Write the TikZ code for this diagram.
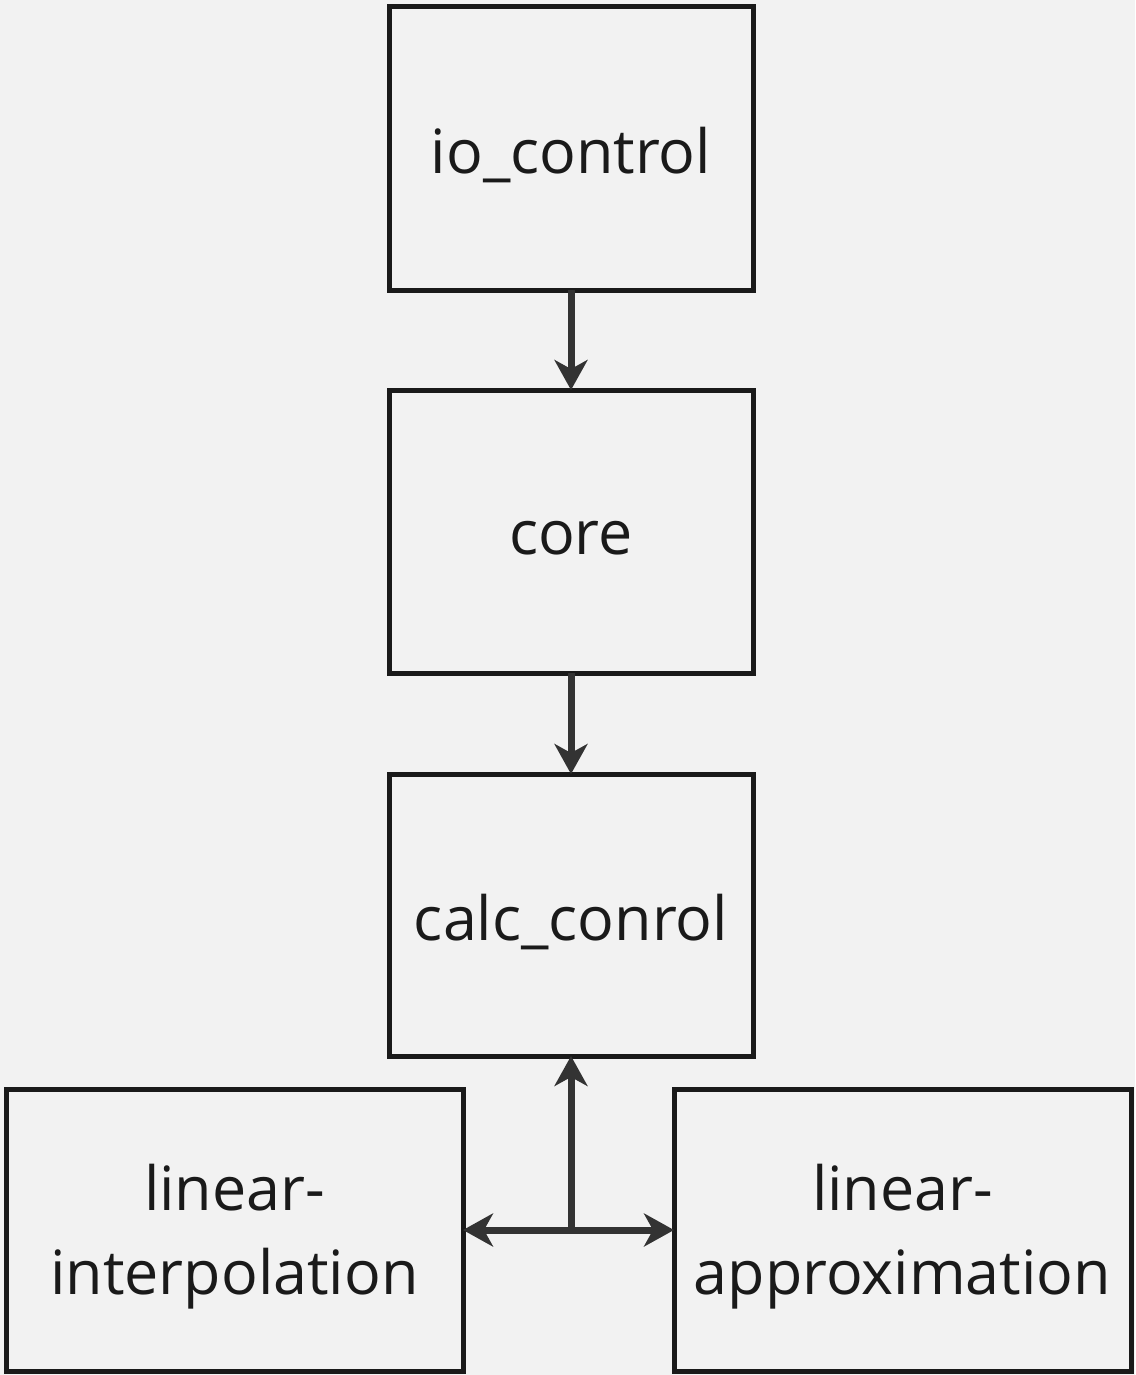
\documentclass[tikz,border=0pt]{standalone}
\usepackage{fontspec}
\setmainfont{Open Sans}
\usetikzlibrary{arrows.meta}
\definecolor{bg}{HTML}{F2F2F2}
\definecolor{edge}{HTML}{1A1A1A}
\definecolor{arr}{HTML}{333333}
\tikzset{
  box/.style={draw=edge, line width=5pt, fill=bg, inner sep=0pt, outer sep=0pt,
    text=edge, align=center},
  lbl/.style={text=edge, font=\fontsize{61}{84}\selectfont, align=center, inner sep=0pt},
  conn/.style={draw=arr, line width=7pt,
    arrows={-Stealth[length=30pt, width=33pt, inset=9pt]}}
}
\begin{document}
\begin{tikzpicture}[x=1pt, y=-1pt]
\fill[bg] (0,0) rectangle (1135,1375);
\useasboundingbox (0,0) rectangle (1135,1375);
\node[box, minimum width=364pt, minimum height=283pt] (io) at (571,148.5) {};
\node[box, minimum width=364pt, minimum height=283pt] (core) at (571,531.5) {};
\node[box, minimum width=364pt, minimum height=282pt] (calc) at (571,915) {};
\node[box, minimum width=457pt, minimum height=282pt] (li) at (234.5,1230) {};
\node[box, minimum width=457pt, minimum height=282pt] (la) at (902.5,1230) {};
\node[lbl] (iot) at ([yshift=-7pt]io.center) {io\_control};
\node[lbl] (coret) at ([yshift=-7pt]core.center) {core};
\node[lbl] (calct) at ([yshift=-7pt]calc.center) {calc\_conrol};
\node[lbl] (lit) at ([yshift=-7pt]li.center) {linear-\\interpolation};
\node[lbl] (lat) at ([yshift=-7pt]la.center) {linear-\\approximation};
\coordinate (j) at (571,1230);
\draw[conn] (io.south) -- (core.north);
\draw[conn] (core.south) -- (calc.north);
\draw[conn] (j) -- (calc.south);
\draw[conn] (j) -- (li.east);
\draw[conn] (j) -- (la.west);
\end{tikzpicture}
\end{document}
